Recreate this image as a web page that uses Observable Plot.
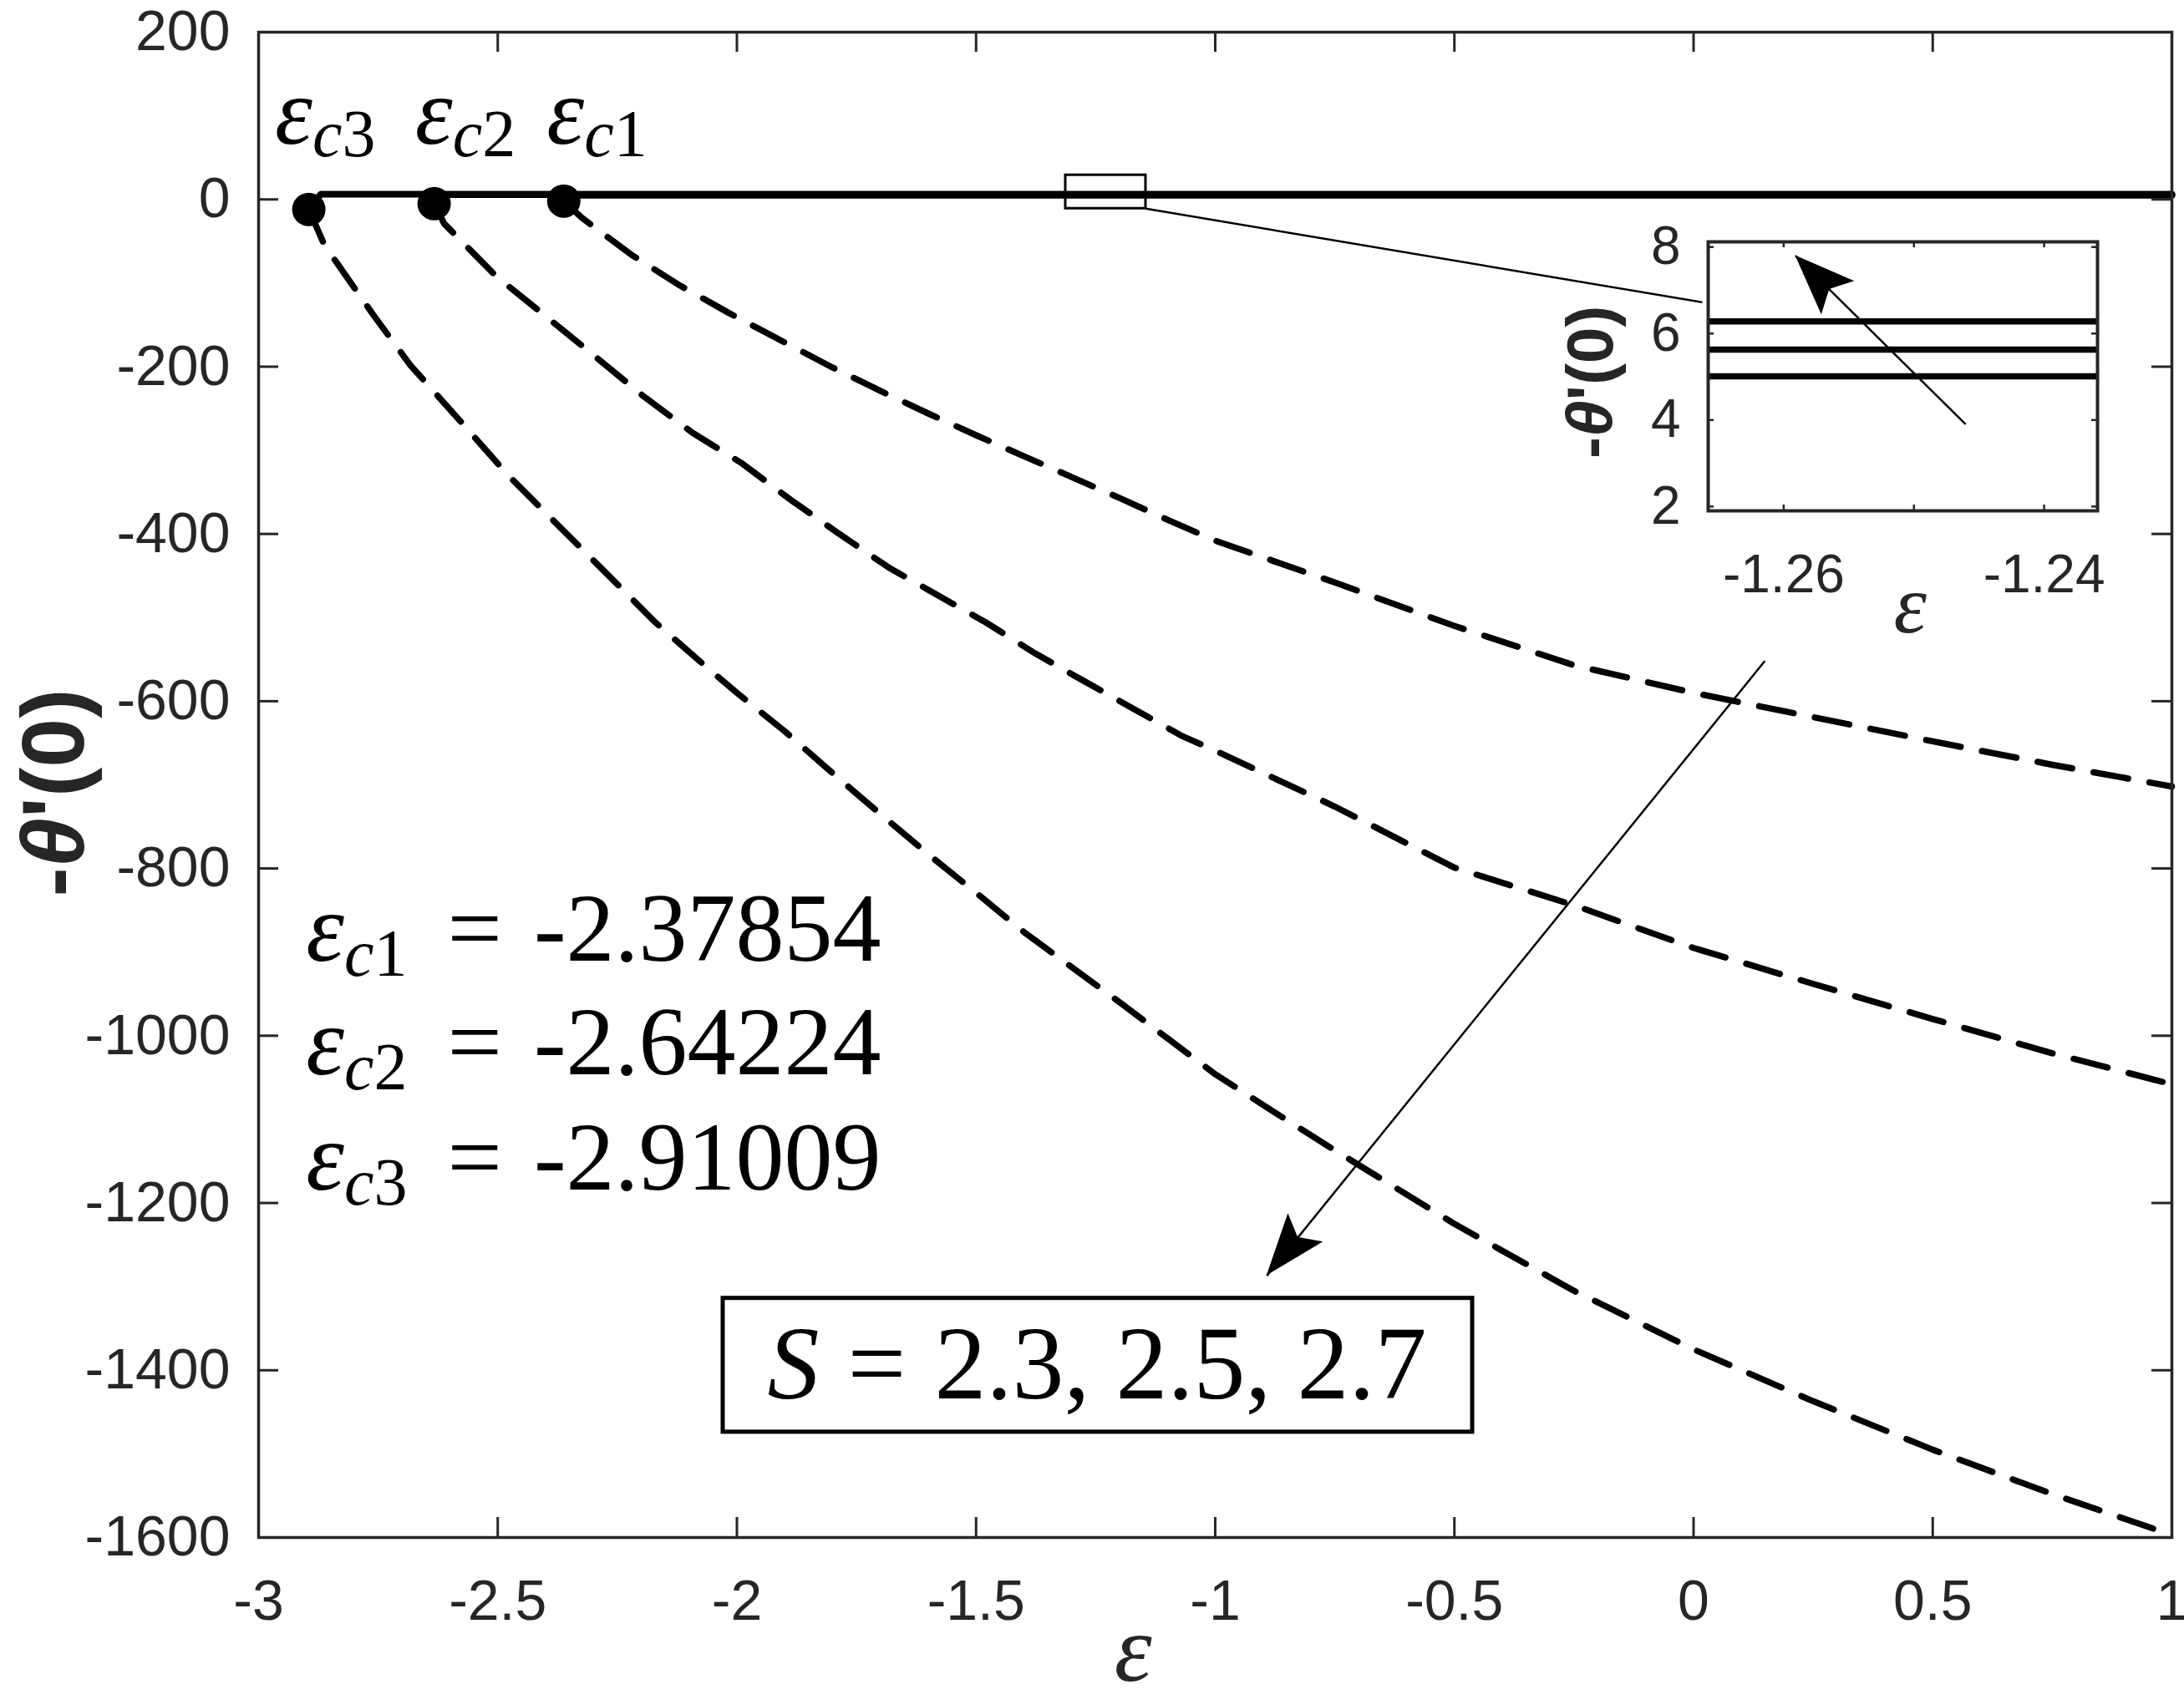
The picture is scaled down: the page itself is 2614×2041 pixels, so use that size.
<!DOCTYPE html>
<html><head><meta charset="utf-8">
<script src="https://cdn.jsdelivr.net/npm/d3@7"></script>
<script src="https://cdn.jsdelivr.net/npm/@observablehq/plot@0.6"></script>
<style>
html,body{margin:0;padding:0;background:#fff;overflow:hidden;}
#wrap{position:relative;width:2614px;height:2041px;background:#fff;}
#inset{position:absolute;left:1850px;top:250px;}
</style></head>
<body><div id="wrap"><div id="main"></div><div id="inset"></div></div>
<script>
// ---------------- data ----------------
const sValues = [2.3, 2.5, 2.7];
const epsCritical = [-2.37854, -2.64224, -2.91009];
const dotEps = [-2.362, -2.633, -2.895];
const dotVal = [-2, -5, -12];

// upper (solid) branches
const upperEps23 = [-2.362, -2.345, 1];
const upperVal23 = [-2, 5.01, 5.01];
const upperEps25 = [-2.633, -2.615, 1];
const upperVal25 = [-5, 5.63, 5.63];
const upperEps27 = [-2.895, -2.87, 1];
const upperVal27 = [-12, 6.28, 6.28];

// lower (dashed) branches
const lowerEps23 = [-2.362, -2.324, -2.221, -2.119, -2.016, -1.9, -1.8, -1.7, -1.6, -1.5, -1.4, -1.3, -1.2, -1.1, -1.0, -0.75, -0.5, -0.25, 0, 0.25, 0.5, 0.75, 1];
const lowerVal23 = [-2, -22, -66, -103, -136, -171, -201, -229, -256, -282, -307, -332, -357, -383, -408, -458, -510, -557, -590, -619, -648, -676, -702];
const lowerEps25 = [-2.633, -2.612, -2.503, -2.401, -2.298, -2.196, -2.093, -1.991, -1.888, -1.786, -1.683, -1.581, -1.479, -1.376, -1.274, -1.171, -1.068, -1.0, -0.75, -0.5, -0.25, 0, 0.25, 0.5, 0.75, 1];
const lowerVal25 = [-5, -29, -92, -139, -187, -235, -279, -315, -359, -400, -440, -473, -506, -543, -576, -609, -642, -659, -726, -799, -844, -895, -938, -980, -1021, -1058];
const lowerEps27 = [-2.895, -2.862, -2.759, -2.683, -2.58, -2.478, -2.375, -2.273, -2.17, -2.068, -2.0, -1.9, -1.8, -1.7, -1.6, -1.5, -1.4, -1.3, -1.2, -1.1, -1.0, -0.875, -0.75, -0.5, -0.25, 0, 0.25, 0.5, 0.75, 1];
const lowerVal27 = [-12, -55, -139, -198, -264, -330, -389, -447, -506, -557, -590, -636, -686, -735, -783, -829, -876, -918, -960, -1003, -1046, -1092, -1137, -1225, -1305, -1375, -1437, -1495, -1548, -1597];

// ticks
const xTicks = [-3, -2.5, -2, -1.5, -1, -0.5, 0, 0.5, 1];
const yTicks = [200, 0, -200, -400, -600, -800, -1000, -1200, -1400, -1600];
const insetXTicks = [-1.26, -1.25, -1.24];
const insetXLabels = [-1.26, -1.24];
const insetYTicks = [2, 4, 6, 8];
const insetXDomain = [-1.2658, -1.2359];
const insetYDomain = [1.9, 8.12];

// annotations (data coordinates)
const zoomBox = [{x1: -1.3127, x2: -1.145, y1: -11, y2: 29}];
const zoomLink = [{x1: -1.145, y1: -11, x2: 0.0183, y2: -123}];
const mainArrow = [{x1: 0.149, y1: -552, x2: -0.892, y2: -1287}];
const insetArrow = [{x1: -1.24603, y1: 3.90, x2: -1.25910, y2: 7.80}];
const critLabelEps = [-2.397, -2.672, -2.965];
const critLabelY = 66;
const eqX = -2.9;
const eqY = [-911, -1047, -1184];
const sBox = [{x1: -2.0288, x2: -0.462, y1: -1474, y2: -1314}];
const sTextPos = {x: -1.2463, y: -1434};

// ---------------- helpers ----------------
const SVGNS = "http://www.w3.org/2000/svg";
const ink = "#262626";
const sansF = "'Liberation Sans', Arial, Helvetica, sans-serif";
const serifF = "'Liberation Serif', 'Times New Roman', serif";

function rows(series) {
  return series.flatMap(({S, eps, val}) => eps.map((e, i) => ({S, eps: e, val: val[i]})));
}
const upperRows = rows([
  {S: 2.3, eps: upperEps23, val: upperVal23},
  {S: 2.5, eps: upperEps25, val: upperVal25},
  {S: 2.7, eps: upperEps27, val: upperVal27}
]);
const lowerRows = rows([
  {S: 2.3, eps: lowerEps23, val: lowerVal23},
  {S: 2.5, eps: lowerEps25, val: lowerVal25},
  {S: 2.7, eps: lowerEps27, val: lowerVal27}
]);
const dots = dotEps.map((e, i) => ({eps: e, val: dotVal[i]}));

// rich text mark: data rows -> <text> with tspans placed through the scales
function richText(data, {x, y, dx = 0, dy = 0, rotate = 0, anchor = "start", size, family, weight = "normal", fill = "black", spans}) {
  return (index, scales, values, dims, context) => {
    const doc = (context && context.document) || document;
    const g = doc.createElementNS(SVGNS, "g");
    for (const d of data) {
      const px = scales.x(x(d)) + dx, py = scales.y(y(d)) + dy;
      const t = doc.createElementNS(SVGNS, "text");
      t.setAttribute("transform", `translate(${px},${py}) rotate(${rotate})`);
      t.setAttribute("text-anchor", anchor);
      t.setAttribute("font-size", size);
      t.setAttribute("font-family", family);
      t.setAttribute("font-weight", weight);
      t.setAttribute("fill", fill);
      for (const s of spans(d)) {
        const ts = doc.createElementNS(SVGNS, "tspan");
        if (s.italic) ts.setAttribute("font-style", "italic");
        if (s.size) ts.setAttribute("font-size", s.size);
        if (s.dx) ts.setAttribute("dx", s.dx);
        if (s.dy) ts.setAttribute("dy", s.dy);
        ts.textContent = s.t;
        t.appendChild(ts);
      }
      g.appendChild(t);
    }
    return g;
  };
}

// filled arrow heads (notched), oriented in screen space from the scales
function arrowHeads(data, {len = 74, half = 27, notch = 0.8} = {}) {
  return (index, scales, values, dims, context) => {
    const doc = (context && context.document) || document;
    const g = doc.createElementNS(SVGNS, "g");
    for (const r of data) {
      const x1 = scales.x(r.x1), y1 = scales.y(r.y1), x2 = scales.x(r.x2), y2 = scales.y(r.y2);
      const a = Math.atan2(y2 - y1, x2 - x1), c = Math.cos(a), s = Math.sin(a);
      const bx = x2 - len * c, by = y2 - len * s;
      const pts = [[x2, y2], [bx - half * s, by + half * c], [x2 - notch * len * c, y2 - notch * len * s], [bx + half * s, by - half * c]];
      const p = doc.createElementNS(SVGNS, "path");
      p.setAttribute("d", "M" + pts.map(q => q.join(",")).join("L") + "Z");
      p.setAttribute("fill", "black");
      g.appendChild(p);
    }
    return g;
  };
}

// ---------------- main chart ----------------
const W = 2614, H = 2041, mL = 309, mR = 15, mT = 38, mB = 201;
const FW = W - mL - mR, FH = H - mT - mB;
const tickLen = 24;

const critRows = sValues.map((s, i) => ({k: i + 1, v: epsCritical[i], lx: critLabelEps[i], ey: eqY[i]}));

const main = Plot.plot({
  width: W, height: H,
  marginLeft: mL, marginRight: mR, marginTop: mT, marginBottom: mB,
  x: {domain: [-3, 1]},
  y: {domain: [-1600, 200]},
  style: {background: "white", fontFamily: sansF, color: ink, overflow: "visible", maxWidth: "none"},
  marks: [
    Plot.line(lowerRows, {x: "eps", y: "val", z: "S", stroke: "black", strokeWidth: 7.5, strokeDasharray: "42,26"}),
    Plot.line(upperRows, {x: "eps", y: "val", z: "S", stroke: "black", strokeWidth: 8}),
    Plot.dot(dots, {x: "eps", y: "val", r: 20, fill: "black"}),
    // zoom rectangle and connector
    Plot.rect(zoomBox, {x1: "x1", x2: "x2", y1: "y1", y2: "y2", fill: "none", stroke: "black", strokeWidth: 3}),
    Plot.link(zoomLink, {x1: "x1", y1: "y1", x2: "x2", y2: "y2", stroke: "black", strokeWidth: 2.5}),
    // S box
    Plot.rect(sBox, {x1: "x1", x2: "x2", y1: "y1", y2: "y2", fill: "white", stroke: "black", strokeWidth: 5}),
    richText([sTextPos], {x: d => d.x, y: d => d.y, anchor: "middle", size: 124, family: serifF,
      spans: () => [{t: "S", italic: true}, {t: "=", dx: 34}, {t: sValues.join(", "), dx: 34}]}),
    // main arrow
    Plot.link(mainArrow, {x1: "x1", y1: "y1", x2: "x2", y2: "y2", stroke: "black", strokeWidth: 2.5}),
    arrowHeads(mainArrow),
    // critical-point labels
    richText(critRows, {x: d => d.lx, y: () => critLabelY, size: 114, family: serifF,
      spans: d => [{t: "ε", italic: true}, {t: "c", italic: true, size: 80, dy: 15}, {t: String(d.k), size: 80}]}),
    // equations
    richText(critRows, {x: () => eqX, y: d => d.ey, size: 116, family: serifF,
      spans: d => [{t: "ε", italic: true}, {t: "c", italic: true, size: 80, dy: 18}, {t: String(d.k), size: 80},
                   {t: "=", dy: -18, dx: 48}, {t: String(d.v), dx: 38}]}),
    // ticks (inside, all four sides)
    Plot.tickX(xTicks, {x: d => d, insetTop: FH - tickLen, stroke: ink, strokeWidth: 3}),
    Plot.tickX(xTicks, {x: d => d, insetBottom: FH - tickLen, stroke: ink, strokeWidth: 3}),
    Plot.tickY(yTicks, {y: d => d, insetRight: FW - tickLen, stroke: ink, strokeWidth: 3}),
    Plot.tickY(yTicks, {y: d => d, insetLeft: FW - tickLen, stroke: ink, strokeWidth: 3}),
    Plot.frame({stroke: ink, strokeWidth: 3.5}),
    Plot.axisX(xTicks, {anchor: "bottom", tickSize: 0, tickPadding: 50, tickFormat: d => String(d), fontSize: 68, fontFamily: sansF, fill: ink}),
    Plot.axisY(yTicks, {anchor: "left", tickSize: 0, tickPadding: 34, tickFormat: d => String(d), fontSize: 68, fontFamily: sansF, fill: ink}),
    // axis titles
    richText([{x: -1.171, y: -1600}], {x: d => d.x, y: d => d.y, dy: 172, anchor: "middle", size: 114, family: serifF, fill: ink,
      spans: () => [{t: "ε", italic: true}]}),
    richText([{x: -3, y: -710}], {x: d => d.x, y: d => d.y, dx: -209, rotate: -90, anchor: "middle", size: 106, family: sansF, weight: "bold", fill: ink,
      spans: () => [{t: "-"}, {t: "θ", italic: true}, {t: "'(0)"}]})
  ]
});
document.getElementById("main").appendChild(main);

// ---------------- inset ----------------
const iW = 710, iH = 520, imL = 194, imT = 39, imR = 50, imB = 159;
const iFW = iW - imL - imR, iFH = iH - imT - imB;
const iTick = 7;
const inset = Plot.plot({
  width: iW, height: iH,
  marginLeft: imL, marginRight: imR, marginTop: imT, marginBottom: imB,
  x: {domain: insetXDomain},
  y: {domain: insetYDomain},
  style: {background: "transparent", fontFamily: sansF, color: ink, overflow: "visible", maxWidth: "none"},
  marks: [
    Plot.frame({fill: "white"}),
    Plot.line(upperRows, {x: "eps", y: "val", z: "S", stroke: "black", strokeWidth: 7.5, clip: true}),
    Plot.link(insetArrow, {x1: "x1", y1: "y1", x2: "x2", y2: "y2", stroke: "black", strokeWidth: 2.5}),
    arrowHeads(insetArrow, {len: 72, half: 28}),
    Plot.tickX(insetXTicks, {x: d => d, insetTop: iFH - iTick, stroke: ink, strokeWidth: 2.5}),
    Plot.tickX(insetXTicks, {x: d => d, insetBottom: iFH - iTick, stroke: ink, strokeWidth: 2.5}),
    Plot.tickY(insetYTicks, {y: d => d, insetRight: iFW - iTick, stroke: ink, strokeWidth: 2.5}),
    Plot.tickY(insetYTicks, {y: d => d, insetLeft: iFW - iTick, stroke: ink, strokeWidth: 2.5}),
    Plot.frame({stroke: ink, strokeWidth: 4}),
    Plot.axisX(insetXLabels, {anchor: "bottom", tickSize: 0, tickPadding: 52, tickFormat: d => String(d), fontSize: 64, fontFamily: sansF, fill: ink}),
    Plot.axisY(insetYTicks, {anchor: "left", tickSize: 0, tickPadding: 33, tickFormat: d => String(d), fontSize: 64, fontFamily: sansF, fill: ink}),
    richText([{x: -1.25026, y: insetYDomain[0]}], {x: d => d.x, y: d => d.y, dy: 146, anchor: "middle", size: 100, family: serifF, fill: ink,
      spans: () => [{t: "ε", italic: true}]}),
    richText([{x: insetXDomain[0], y: 4.87}], {x: d => d.x, y: d => d.y, dx: -114, rotate: -90, anchor: "middle", size: 78, family: sansF, weight: "bold", fill: ink,
      spans: () => [{t: "-"}, {t: "θ", italic: true}, {t: "'(0)"}]})
  ]
});
document.getElementById("inset").appendChild(inset);
</script>
</body></html>
